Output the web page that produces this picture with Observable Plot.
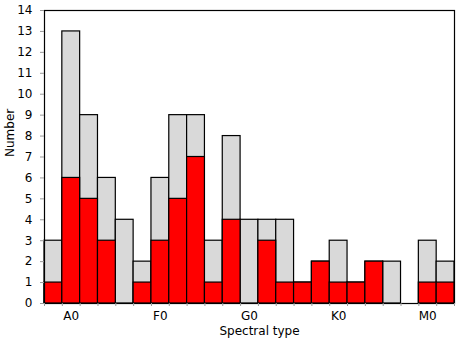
<!DOCTYPE html>
<html>
<head>
<meta charset="utf-8">
<script src="https://cdn.jsdelivr.net/npm/d3@7"></script>
<script src="https://cdn.jsdelivr.net/npm/@observablehq/plot@0.6"></script>
<style>
  html, body { margin: 0; padding: 0; background: #fff; }
  svg { display: block; }
</style>
</head>
<body>
<div id="chart"></div>
<script>
// Bin labels (one per two-subclass bin), only some are labelled
const binLabels = ["", "A0", "", "", "", "", "F0", "", "", "", "", "G0", "", "", "", "", "K0", "", "", "", "", "M0", ""];
// Total number of stars per bin (grey)
const totals = [3, 13, 9, 6, 4, 2, 6, 9, 9, 3, 8, 4, 4, 4, 1, 2, 3, 1, 2, 2, 0, 3, 2];
// Subset per bin (red)
const subset = [1, 6, 5, 3, 0, 1, 3, 5, 7, 1, 4, 0, 3, 1, 1, 2, 1, 1, 2, 0, 0, 1, 1];
const yTicks = d3.range(0, 15);

const bins = totals.map((t, i) => ({ i, total: t, sub: subset[i], label: binLabels[i] }));

const font = "'DejaVu Sans', Verdana, sans-serif";

const chart = Plot.plot({
  width: 463,
  height: 347,
  marginLeft: 44,
  marginRight: 9,
  marginTop: 10,
  marginBottom: 44,
  style: { fontFamily: font, fontSize: "12px", color: "black", background: "white" },
  x: { domain: [0, totals.length] },
  y: { domain: [0, 14] },
  marks: [
    Plot.rectY(bins.filter(d => d.total > 0), {
      x1: d => d.i, x2: d => d.i + 1, y1: 0, y2: "total",
      fill: "#d9d9d9", stroke: "black", strokeWidth: 1.2
    }),
    Plot.rectY(bins.filter(d => d.sub > 0), {
      x1: d => d.i, x2: d => d.i + 1, y1: 0, y2: "sub",
      fill: "#ff0000", stroke: "black", strokeWidth: 1.2
    }),
    Plot.frame({ stroke: "black", strokeWidth: 1.2 }),
    Plot.axisY({
      ticks: yTicks, tickSize: 4, tickPadding: 8, label: null,
      stroke: "#999", fontSize: 12
    }),
    Plot.axisX({
      ticks: d3.range(0, totals.length + 1), tickSize: 3, tickFormat: () => "",
      label: null, stroke: "#999"
    }),
    Plot.axisX({
      ticks: bins.filter(d => d.label).map(d => d.i + 0.5),
      tickFormat: v => binLabels[Math.floor(v)],
      tickSize: 0, tickPadding: 8, label: null, fontSize: 12
    }),
    Plot.text(["Number"], {
      frameAnchor: "left", dx: -34, rotate: -90, fontSize: 12, fill: "black"
    }),
    Plot.text(["Spectral type"], {
      frameAnchor: "bottom", dx: 10, dy: 31, fontSize: 12, fill: "black"
    })
  ]
});

document.getElementById("chart").append(chart);
</script>
</body>
</html>
